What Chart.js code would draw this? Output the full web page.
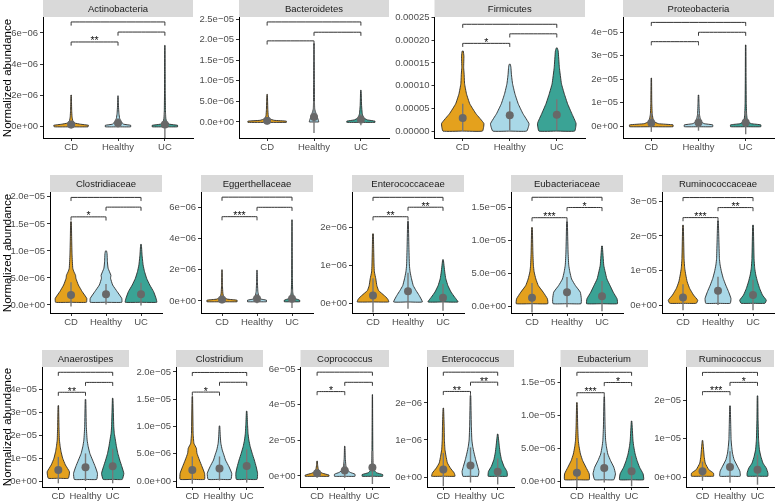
<!DOCTYPE html>
<html><head><meta charset="utf-8">
<script src="https://cdn.jsdelivr.net/npm/chart.js@4.4.0/dist/chart.umd.min.js"></script>
<style>
html,body{margin:0;padding:0;background:#fff;overflow:hidden;width:778px;height:502px;position:relative;font-family:"Liberation Sans",Arial,Helvetica,sans-serif}
canvas{position:absolute}
.ytitle{position:absolute;width:180px;height:14px;line-height:14px;font-size:11.5px;color:#000;text-align:center;transform:rotate(-90deg);white-space:nowrap}
</style></head>
<body>
<script>
// ---------------- data ----------------
const taxa = ["Actinobacteria","Bacteroidetes","Firmicutes","Proteobacteria",
  "Clostridiaceae","Eggerthellaceae","Enterococcaceae","Eubacteriaceae","Ruminococcaceae",
  "Anaerostipes","Clostridium","Coprococcus","Enterococcus","Eubacterium","Ruminococcus"];
const groups = ["CD","Healthy","UC"];
const yTitle = "Normalized abundance";
// unit of every value below, per panel
const unit = [1e-6,1e-6,1e-5,1e-5, 1e-6,1e-6,1e-6,1e-6,1e-5, 1e-5,1e-6,1e-5,1e-6,1e-6,1e-5];
const yMin = [-0.77,-3.9,-1.52,-0.51, -1.48,-0.77,-0.26,-1.06,-0.23, -0.26,-1.1,-0.62,-0.27,-0.9,-0.26];
const yMax = [7.03,25.5,25.1,4.64, 20.9,6.98,2.92,17.3,3.27, 4.96,20.9,6.12,2.97,17.3,2.86];
const tickValues = [[0,2,4,6],[0,5,10,15,20,25],[0,5,10,15,20,25],[0,1,2,3,4],
  [0,5,10,15,20],[0,2,4,6],[0,1,2],[0,5,10,15],[0,1,2,3],
  [0,1,2,3,4],[0,5,10,15,20],[0,2,4,6],[0,1,2],[0,5,10,15],[0,1,2]];
const tickLabels = [
  ["0e+00","2e−06","4e−06","6e−06"],
  ["0.0e+00","5.0e−06","1.0e−05","1.5e−05","2.0e−05","2.5e−05"],
  ["0.00000","0.00005","0.00010","0.00015","0.00020","0.00025"],
  ["0e+00","1e−05","2e−05","3e−05","4e−05"],
  ["0.0e+00","5.0e−06","1.0e−05","1.5e−05","2.0e−05"],
  ["0e+00","2e−06","4e−06","6e−06"],
  ["0e+00","1e−06","2e−06"],
  ["0.0e+00","5.0e−06","1.0e−05","1.5e−05"],
  ["0e+00","1e−05","2e−05","3e−05"],
  ["0e+00","1e−05","2e−05","3e−05","4e−05"],
  ["0.0e+00","5.0e−06","1.0e−05","1.5e−05","2.0e−05"],
  ["0e+00","2e−05","4e−05","6e−05"],
  ["0e+00","1e−06","2e−06"],
  ["0.0e+00","5.0e−06","1.0e−05","1.5e−05"],
  ["0e+00","1e−05","2e−05"]];
const meanValues = [[0.1,0.2,0.1],[0.3,1.2,0.6],[2.9,3.5,3.6],[0.14,0.15,0.15],
  [1.85,2.0,2.0],[0.1,0.15,0.15],[0.2,0.31,0.14],[1.26,2.1,1.5],[0.22,0.41,0.29],
  [0.48,0.6,0.64],[2.0,2.3,2.75],[0.15,0.3,0.47],[0.2,0.31,0.14],[1.26,2.0,1.5],[0.15,0.26,0.19]];
const sdRanges = [
  [[-0.15,0.35],[-0.1,0.5],[-0.8,0.9]],
  [[-0.6,1.2],[-2.7,5],[-0.8,2]],
  [[0,6],[0.2,6.5],[0.2,7]],
  [[-0.25,0.55],[-0.2,0.5],[-0.35,0.65]],
  [[-0.3,4.2],[0.1,3.9],[-0.1,4.1]],
  [[-0.15,0.35],[-0.15,0.45],[-0.45,0.75]],
  [[-0.25,0.65],[-0.15,0.8],[-0.2,0.5]],
  [[-1,3.5],[-0.2,4.4],[-0.8,3.8]],
  [[-0.15,0.6],[0,0.82],[-0.15,0.73]],
  [[-0.1,1.05],[0,1.2],[-0.1,1.4]],
  [[-0.5,4.5],[0.1,4.5],[-0.3,5.8]],
  [[-0.1,0.4],[-0.1,0.7],[-0.45,1.4]],
  [[-0.25,0.65],[-0.15,0.8],[-0.2,0.5]],
  [[-0.9,3.5],[-0.2,4.3],[-0.8,3.8]],
  [[-0.1,0.4],[-0.15,0.67],[-0.2,0.58]]];
// comparisons: CD-Healthy, Healthy-UC, CD-UC
const bracketPairs = [[1,2],[2,3],[1,3]];
const bracketLevels = [[5.42,6.06,6.71],[19.7,21.8,24.3],[19.3,21.4,23.5],[3.59,3.99,4.41],
  [16.3,18.1,19.9],[5.4,6.0,6.65],[2.27,2.52,2.78],[13.4,14.95,16.5],[2.53,2.82,3.11],
  [3.86,4.29,4.73],[16.3,18.1,19.9],[4.74,5.26,5.83],[2.31,2.56,2.83],[13.4,14.95,16.5],[2.22,2.46,2.72]];
const bracketStars = [["**","",""],["","",""],["*","",""],["","",""],
  ["*","",""],["***","",""],["**","**",""],["***","*",""],["***","**",""],
  ["**","",""],["*","",""],["*","",""],["**","**",""],["***","*",""],["***","*",""]];
// violin outlines: [value, half width in category units], bottom to top
const shapesCD = [
  [[-0.05,0.36],[0.05,0.37],[0.12,0.2],[0.2,0.07],[0.35,0.035],[0.6,0.02],[1.0,0.012],[1.5,0.008],[2.0,0.004]],
  [[-0.1,0.41],[0.2,0.41],[0.4,0.15],[0.8,0.05],[1.5,0.025],[3,0.015],[5,0.01],[6.7,0.005]],
  [[0,0.42],[1.67,0.45],[3.84,0.28],[6.0,0.15],[8.2,0.08],[10.4,0.04],[12.5,0.03],[14,0.02],[16.5,0.025],[17.6,0.012]],
  [[-0.03,0.46],[0.05,0.46],[0.1,0.15],[0.2,0.05],[0.5,0.02],[1,0.01],[2.04,0.005]],
  [[0.5,0.44],[1.23,0.45],[2.47,0.32],[3.7,0.21],[4.94,0.14],[5.5,0.13],[6.2,0.08],[6.8,0.05],[9.26,0.03],[12,0.02],[15.4,0.01]],
  [[-0.05,0.43],[0.05,0.43],[0.12,0.15],[0.25,0.05],[0.5,0.025],[1,0.012],[2,0.005]],
  [[0.03,0.45],[0.11,0.42],[0.2,0.32],[0.33,0.16],[0.46,0.11],[0.64,0.08],[0.82,0.04],[1.0,0.03],[1.4,0.02],[1.82,0.01]],
  [[0.35,0.45],[1.1,0.44],[2.1,0.32],[3.1,0.18],[4.1,0.11],[5.2,0.06],[6.2,0.04],[8.2,0.025],[11.9,0.01]],
  [[0.05,0.38],[0.14,0.42],[0.29,0.30],[0.48,0.19],[0.67,0.12],[0.87,0.08],[1.06,0.05],[1.35,0.03],[2.31,0.01]],
  [[0.12,0.37],[0.4,0.41],[0.7,0.26],[0.99,0.16],[1.28,0.1],[1.5,0.07],[1.78,0.04],[2.36,0.025],[3.28,0.01]],
  [[0.3,0.45],[1.4,0.45],[2.6,0.36],[3.85,0.26],[5.1,0.17],[6.0,0.15],[6.9,0.06],[8.7,0.03],[15.5,0.01]],
  [[-0.02,0.43],[0.05,0.43],[0.15,0.2],[0.25,0.08],[0.4,0.04],[0.6,0.02],[0.84,0.008]],
  [[0.02,0.43],[0.11,0.4],[0.24,0.26],[0.38,0.15],[0.56,0.1],[0.74,0.06],[1.0,0.04],[1.4,0.03],[1.86,0.01]],
  [[0.2,0.45],[1.1,0.45],[2.1,0.33],[3.1,0.21],[4.1,0.13],[5.2,0.08],[6.2,0.05],[8.2,0.03],[11.9,0.01]],
  [[0.02,0.4],[0.1,0.4],[0.19,0.23],[0.36,0.1],[0.54,0.06],[0.71,0.04],[0.95,0.01]]];
const shapesHealthy = [
  [[-0.05,0.27],[0.05,0.27],[0.12,0.12],[0.3,0.06],[0.5,0.035],[0.8,0.02],[1.3,0.01],[1.95,0.004]],
  [[0,0.1],[0.5,0.09],[1.5,0.06],[2.5,0.03],[3.2,0.015],[5,0.01],[10,0.008],[15,0.006],[19,0.004]],
  [[0,0.36],[1.6,0.41],[3.84,0.28],[6.0,0.18],[8.2,0.11],[10.4,0.06],[12.5,0.035],[14,0.025],[14.7,0.012]],
  [[-0.03,0.3],[0.05,0.3],[0.1,0.12],[0.2,0.05],[0.5,0.02],[1,0.01],[1.32,0.005]],
  [[0.5,0.45],[1.23,0.45],[2.47,0.32],[3.7,0.19],[4.94,0.13],[5.5,0.14],[6.8,0.06],[8,0.04],[9.5,0.03],[10,0.015]],
  [[-0.05,0.27],[0.05,0.27],[0.12,0.12],[0.3,0.05],[0.6,0.025],[1.2,0.012],[1.97,0.005]],
  [[0.03,0.41],[0.2,0.32],[0.33,0.23],[0.46,0.15],[0.64,0.1],[0.82,0.06],[1.0,0.04],[1.5,0.025],[2.15,0.01]],
  [[0.35,0.40],[1.1,0.41],[2.1,0.38],[3.1,0.24],[4.1,0.13],[5.2,0.08],[6.2,0.05],[8.2,0.03],[12.8,0.01]],
  [[0.05,0.35],[0.19,0.37],[0.39,0.30],[0.58,0.22],[0.77,0.15],[0.96,0.1],[1.16,0.06],[1.35,0.04],[2.43,0.01]],
  [[0.07,0.41],[0.33,0.44],[0.62,0.36],[0.91,0.26],[1.2,0.16],[1.49,0.1],[1.78,0.06],[2.36,0.03],[3.55,0.01]],
  [[0.3,0.42],[1.4,0.45],[2.6,0.35],[3.85,0.22],[4.8,0.16],[5.7,0.1],[6.9,0.05],[8.1,0.03],[10.1,0.01]],
  [[-0.02,0.37],[0.1,0.37],[0.2,0.2],[0.35,0.08],[0.6,0.04],[1.0,0.02],[1.67,0.008]],
  [[0.02,0.28],[0.15,0.31],[0.29,0.26],[0.47,0.19],[0.65,0.13],[0.83,0.08],[1.0,0.05],[1.4,0.03],[2.2,0.01]],
  [[0.2,0.35],[1.1,0.41],[2.1,0.35],[3.1,0.23],[4.1,0.13],[5.2,0.08],[6.2,0.05],[8.2,0.03],[12.8,0.01]],
  [[0.02,0.37],[0.15,0.36],[0.28,0.27],[0.45,0.15],[0.62,0.09],[0.8,0.06],[0.97,0.04],[1.4,0.025],[1.85,0.01]]];
const shapesUC = [
  [[-0.05,0.27],[0.05,0.27],[0.12,0.1],[0.25,0.04],[0.5,0.02],[1.0,0.012],[2.0,0.008],[3.5,0.006],[5.2,0.004]],
  [[-0.1,0.3],[0.2,0.3],[0.5,0.14],[1,0.06],[2,0.03],[4,0.015],[6,0.01],[7.7,0.005]],
  [[0,0.38],[1.67,0.41],[3.84,0.32],[6.0,0.23],[8.2,0.16],[10.4,0.10],[14,0.055],[17.6,0.03],[18.3,0.01]],
  [[-0.03,0.32],[0.05,0.32],[0.1,0.12],[0.2,0.04],[0.5,0.02],[1,0.012],[2,0.008],[3.45,0.005]],
  [[0.5,0.45],[1.23,0.43],[2.47,0.36],[3.7,0.25],[4.94,0.16],[6.2,0.1],[7.4,0.06],[9.26,0.03],[11.2,0.01]],
  [[-0.05,0.22],[0.05,0.22],[0.15,0.1],[0.3,0.04],[0.6,0.02],[1.5,0.01],[3,0.007],[5.2,0.004]],
  [[0.03,0.43],[0.16,0.33],[0.29,0.23],[0.46,0.14],[0.64,0.08],[0.82,0.05],[1.14,0.01]],
  [[0.35,0.44],[1.1,0.43],[2.1,0.32],[3.1,0.23],[4.1,0.14],[5.2,0.09],[6.2,0.05],[9.1,0.01]],
  [[0.05,0.34],[0.14,0.38],[0.29,0.27],[0.48,0.19],[0.67,0.13],[0.87,0.08],[1.06,0.05],[1.35,0.03],[2.31,0.01]],
  [[0.07,0.35],[0.33,0.41],[0.62,0.34],[0.91,0.26],[1.2,0.19],[1.49,0.14],[1.78,0.1],[2.07,0.06],[2.36,0.04],[3.6,0.01]],
  [[0.3,0.38],[1.4,0.40],[2.6,0.35],[3.85,0.28],[5.1,0.2],[6.3,0.13],[7.5,0.08],[8.7,0.05],[10.5,0.03],[12.8,0.01]],
  [[-0.02,0.37],[0.08,0.37],[0.18,0.15],[0.35,0.05],[0.7,0.025],[1.5,0.015],[3,0.01],[4.57,0.005]],
  [[0.02,0.35],[0.15,0.34],[0.29,0.23],[0.47,0.14],[0.65,0.09],[0.83,0.06],[1.16,0.01]],
  [[0.2,0.44],[1.1,0.42],[2.1,0.29],[3.1,0.2],[4.1,0.13],[5.2,0.08],[6.2,0.05],[9.1,0.01]],
  [[0.02,0.37],[0.1,0.38],[0.23,0.32],[0.36,0.2],[0.54,0.12],[0.71,0.07],[0.97,0.04],[1.5,0.02],[2.11,0.01]]];

// ---------------- layout ----------------
const panelRow = [0,0,0,0, 1,1,1,1,1, 2,2,2,2,2,2];
const panelLeft = [43,239,434.5,623, 50,201,352,511,662, 42,176,300.5,427,560.5,686];
const panelRight = [197,393,589,778, 166,317,468,627,778, 133,267,393,518,652,778];
const rowTop = [0,175,350];
const rowBottom = [138,313,487];
const STRIP_H = 17, AXIS_W = 60, XAXIS_H = 15;
const fillColors = ["#E4A11D","#A9D8E7","#3AA395"];
const FONT = "'Liberation Sans', Arial, Helvetica, sans-serif";

Chart.defaults.font.family = FONT;
Chart.defaults.animation = false;

const panelPlugin = {
  id: 'panel',
  beforeDraw(chart, args, opts) {
    const {ctx, chartArea} = chart;
    ctx.save();
    ctx.fillStyle = '#D9D9D9';
    ctx.fillRect(chartArea.left, 0, chartArea.right - chartArea.left, STRIP_H);
    ctx.fillStyle = '#1A1A1A';
    ctx.font = "9.5px " + FONT;
    ctx.textAlign = 'center';
    ctx.textBaseline = 'middle';
    ctx.fillText(opts.title, (chartArea.left + chartArea.right) / 2, STRIP_H / 2 + 0.5);
    ctx.restore();
  },
  afterDatasetsDraw(chart, args, opts) {
    const {ctx} = chart;
    const xs = chart.scales.x, ys = chart.scales.y;
    ctx.save();
    ctx.fillStyle = '#111';
    ctx.font = "10.5px " + FONT;
    ctx.textAlign = 'center';
    ctx.textBaseline = 'alphabetic';
    opts.stars.forEach((s, k) => {
      if (!s) return;
      const [a, b] = bracketPairs[k];
      const x = (xs.getPixelForValue(a) + xs.getPixelForValue(b)) / 2;
      const y = ys.getPixelForValue(opts.levels[k]);
      ctx.fillText(s, x, y + 2.5);
    });
    ctx.restore();
  }
};

function violinPolygon(profile, c, u) {
  const bottom = profile[0][0] * u;
  const top = profile[profile.length - 1][0] * u;
  const right = profile.map(([v, w]) => ({x: c + w, y: v * u}));
  const left = profile.slice().reverse().map(([v, w]) => ({x: c - w, y: v * u}));
  return [{x: c, y: bottom}, ...right, {x: c, y: top}, ...left, {x: c, y: bottom}];
}

const shapesByGroup = [shapesCD, shapesHealthy, shapesUC];

taxa.forEach((name, p) => {
  const u = unit[p];
  const r = panelRow[p];
  const cLeft = Math.floor(panelLeft[p]) - AXIS_W;
  const axisW = panelLeft[p] - cLeft;
  const cw = Math.ceil(panelRight[p]) - cLeft;
  const ch = rowBottom[r] - rowTop[r] + XAXIS_H;
  const cv = document.createElement('canvas');
  cv.width = cw; cv.height = ch;
  cv.style.left = cLeft + 'px'; cv.style.top = rowTop[r] + 'px';
  cv.style.width = cw + 'px'; cv.style.height = ch + 'px';
  document.body.appendChild(cv);

  const ds = [];
  groups.forEach((g, gi) => {
    ds.push({label: g, data: violinPolygon(shapesByGroup[gi][p], gi + 1, u),
      fill: 'shape', backgroundColor: fillColors[gi], borderColor: '#2A2A2A', borderWidth: 0.9,
      pointRadius: 0, tension: 0.12, order: 4});
  });
  groups.forEach((g, gi) => {
    ds.push({label: g + ' sd', data: [{x: gi + 1, y: sdRanges[p][gi][0] * u}, {x: gi + 1, y: sdRanges[p][gi][1] * u}],
      fill: false, borderColor: '#777777', borderWidth: 1.4, pointRadius: 0, tension: 0.000001, order: 3});
  });
  ds.push({label: 'mean', data: meanValues[p].map((m, gi) => ({x: gi + 1, y: m * u})),
    showLine: false, pointRadius: 4, pointBackgroundColor: '#686868', pointBorderWidth: 0, order: 2});
  const span = (yMax[p] - yMin[p]) * u;
  bracketPairs.forEach(([a, b], k) => {
    const lv = bracketLevels[p][k] * u, tip = span * 0.03;
    ds.push({label: 'cmp' + k, data: [{x: a, y: lv - tip}, {x: a, y: lv}, {x: b, y: lv}, {x: b, y: lv - tip}],
      fill: false, borderColor: '#1A1A1A', borderWidth: 0.9, pointRadius: 0, tension: 0.000001, order: 1});
  });

  new Chart(cv, {
    type: 'line',
    data: {datasets: ds},
    options: {
      responsive: false, animation: false, events: [],
      layout: {padding: {top: STRIP_H, left: 0, right: 0, bottom: 0}},
      plugins: {legend: {display: false}, tooltip: {enabled: false},
        panel: {title: name, stars: bracketStars[p], levels: bracketLevels[p].map(v => v * u)}},
      scales: {
        x: {type: 'linear', min: 0.4, max: 3.6, bounds: 'data',
          afterBuildTicks: s => { s.ticks = [1, 2, 3].map(v => ({value: v})); },
          afterFit: s => { s.height = XAXIS_H; },
          ticks: {callback: (v, i) => groups[i], color: '#4D4D4D', font: {size: 9.5}, padding: 1, autoSkip: false, maxRotation: 0},
          grid: {drawOnChartArea: false, drawTicks: true, tickLength: 3, color: '#333'},
          border: {display: true, color: '#000', width: 1}},
        y: {type: 'linear', min: yMin[p] * u, max: yMax[p] * u, bounds: 'data',
          afterBuildTicks: s => { s.ticks = tickValues[p].map(v => ({value: v * u})); },
          afterFit: s => { s.width = axisW; },
          ticks: {callback: (v, i) => tickLabels[p][i], color: '#4D4D4D', font: {size: 9.5}, padding: 2, autoSkip: false},
          grid: {drawOnChartArea: false, drawTicks: true, tickLength: 3, color: '#333'},
          border: {display: true, color: '#000', width: 1}}
      }
    },
    plugins: [panelPlugin]
  });
});

// shared y-axis title for each row
rowTop.forEach((t, r) => {
  const d = document.createElement('div');
  d.className = 'ytitle';
  d.textContent = yTitle;
  const cy = (t + STRIP_H + rowBottom[r]) / 2;
  d.style.left = (7 - 90) + 'px';
  d.style.top = (cy - 7) + 'px';
  document.body.appendChild(d);
});
</script>
</body></html>
